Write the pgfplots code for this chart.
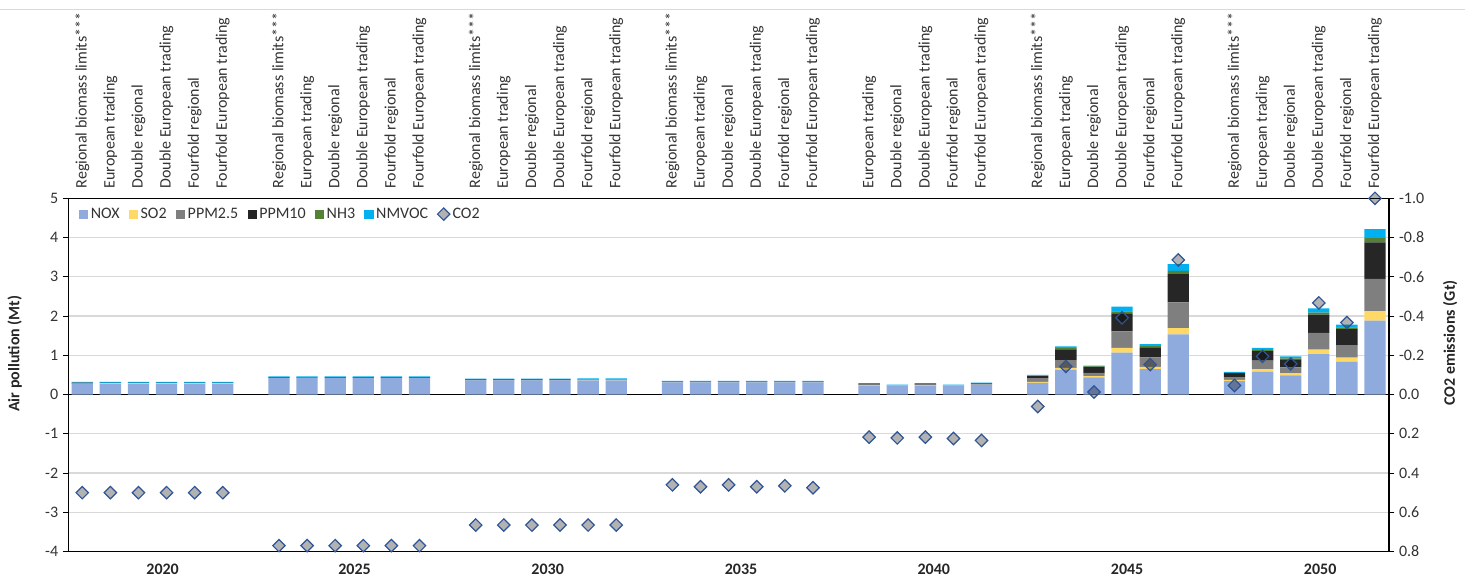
\documentclass[border=0pt]{standalone}
\usepackage{fontspec}
\setmainfont{Carlito}
\usepackage{pgfplots}
\usepackage{pgfplotstable}
\pgfplotsset{compat=1.18}

\definecolor{cNOX}{HTML}{8FAADC}
\definecolor{cSO}{HTML}{FFD966}
\definecolor{cPMa}{HTML}{7F7F7F}
\definecolor{cPMb}{HTML}{262626}
\definecolor{cNH}{HTML}{548235}
\definecolor{cVOC}{HTML}{00B0F0}
\definecolor{cCO}{HTML}{2F5597}

\newcommand\fs{\fontsize{12}{14.4}\selectfont}
\newcommand\RB{Regional biomass limits***}
\newcommand\ET{European trading}
\newcommand\DR{Double regional}
\newcommand\DE{Double European trading}
\newcommand\FR{Fourfold regional}
\newcommand\FE{Fourfold European trading}

\pgfplotsset{
  mybar/.style={fill=#1, draw=none,
    legend image code/.code={\fill[##1] (0pt,-3.4pt) rectangle (6.8pt,3.4pt);}},
  co2mark/.style={only marks, mark=square*, mark size=3.3pt,
    mark options={rotate=45, draw=cCO, line width=0.9pt, fill=black, fill opacity=0.3}},
  co2leg/.style={legend image code/.code={\draw[##1] plot coordinates {(3.5pt,0pt)};}},
}

% x = slot, empty slot between years; co2 in Gt (right axis)
\pgfplotstableread{
x  nox   so2   pm25  pm10  nh3   nmvoc co2
0  0.27  0.005 0.01  0.02  0     0.015 0.50
1  0.27  0.015 0.01  0.005 0     0.02  0.50
2  0.27  0.015 0.01  0.005 0     0.02  0.50
3  0.27  0.015 0.01  0.005 0     0.02  0.50
4  0.27  0.015 0.01  0.005 0     0.02  0.50
5  0.27  0.015 0.01  0.005 0     0.02  0.50
7  0.42  0     0.005 0.015 0     0.02  0.77
8  0.42  0     0.005 0.005 0     0.03  0.77
9  0.42  0     0.005 0.015 0     0.02  0.77
10 0.42  0     0.005 0.015 0     0.02  0.77
11 0.42  0     0.005 0.015 0     0.02  0.77
12 0.42  0     0.005 0.015 0     0.02  0.77
14 0.36  0     0.01  0.015 0     0.02  0.665
15 0.36  0     0.01  0.015 0     0.02  0.665
16 0.36  0     0.01  0.015 0     0.02  0.665
17 0.36  0     0.01  0.015 0     0.02  0.665
18 0.36  0.015 0.01  0.005 0     0.02  0.665
19 0.36  0.015 0.01  0.005 0     0.02  0.665
21 0.31  0     0.01  0.01  0     0.02  0.46
22 0.31  0     0.01  0.01  0     0.02  0.47
23 0.31  0     0.01  0.01  0     0.02  0.46
24 0.31  0     0.01  0.01  0     0.02  0.47
25 0.31  0     0.01  0.01  0     0.02  0.465
26 0.31  0     0.01  0.01  0     0.02  0.475
28 0.23  0.005 0.02  0.02  0     0.015 0.217
29 0.235 0     0     0     0     0.02  0.221
30 0.23  0.005 0.02  0.02  0     0.015 0.217
31 0.235 0     0     0     0     0.02  0.224
32 0.25  0.005 0.01  0.02  0     0.02  0.234
34 0.30  0.02  0.10  0.05  0.01  0.02  0.061
35 0.63  0.05  0.20  0.27  0.03  0.05  -0.143
36 0.44  0.03  0.085 0.153 0.01  0.02  -0.013
37 1.07  0.12  0.42  0.46  0.05  0.12  -0.391
38 0.645 0.06  0.24  0.255 0.034 0.05  -0.153
39 1.535 0.16  0.654 0.72  0.085 0.17  -0.686
41 0.34  0.035 0.07  0.10  0.01  0.02  -0.046
42 0.585 0.06  0.22  0.24  0.035 0.05  -0.195
43 0.49  0.05  0.153 0.204 0.025 0.05  -0.156
44 1.027 0.12  0.425 0.467 0.05  0.11  -0.467
45 0.84  0.10  0.32  0.41  0.04  0.07  -0.367
46 1.885 0.24  0.82  0.93  0.11  0.23  -1.0
}\data

\begin{document}
\begin{tikzpicture}
\path (-50.8pt,-22.7pt) rectangle (1057pt,413.8pt);
\draw[gray!30, line width=0.75pt] (-50.8pt,407pt) -- (1048pt,407pt);

\begin{axis}[
  at={(0,0)}, anchor=south west,
  scale only axis, width=991pt, height=265pt,
  xmin=-0.5, xmax=46.5, ymin=-4, ymax=5,
  ybar stacked, bar width=16pt,
  xtick={0,1,2,3,4,5,7,8,9,10,11,12,14,15,16,17,18,19,21,22,23,24,25,26,28,29,30,31,32,34,35,36,37,38,39,41,42,43,44,45,46},
  xticklabels={\RB,\ET,\DR,\DE,\FR,\FE,\RB,\ET,\DR,\DE,\FR,\FE,\RB,\ET,\DR,\DE,\FR,\FE,\RB,\ET,\DR,\DE,\FR,\FE,\ET,\DR,\DE,\FR,\FE,\RB,\ET,\DR,\DE,\FR,\FE,\RB,\ET,\DR,\DE,\FR,\FE},
  xticklabel pos=top,
  x tick label style={rotate=90, anchor=west, font=\fs, text=black!80},
  xtick style={draw=none},
  ytick={-4,-3,-2,-1,0,1,2,3,4,5}, ytick pos=left,
  y tick label style={font=\fs, text=black!80},
  tick align=outside, major tick length=4pt,
  ytick style={black, line width=0.8pt},
  ymajorgrids, major grid style={draw=gray!30, line width=0.9pt},
  axis line style={black, line width=0.9pt},
  ylabel={\bfseries Air pollution (Mt)},
  ylabel style={font=\fs, text=black!85, at={(axis description cs:-0.0406,0.56)}, anchor=center},
  legend style={draw=none, fill=none, at={(axis description cs:0,1)}, anchor=north west,
    xshift=5pt, yshift=-3pt, font=\fs, text=black!80,
    /tikz/every even column/.append style={column sep=5pt}},
  legend columns=-1,
  /pgf/number format/assume math mode=true,
]
\addplot[mybar=cNOX] table[x=x,y=nox]{\data};
\addlegendentry{NOX}
\addplot[mybar=cSO] table[x=x,y=so2]{\data};
\addlegendentry{SO2}
\addplot[mybar=cPMa] table[x=x,y=pm25]{\data};
\addlegendentry{PPM2.5}
\addplot[mybar=cPMb] table[x=x,y=pm10]{\data};
\addlegendentry{PPM10}
\addplot[mybar=cNH] table[x=x,y=nh3]{\data};
\addlegendentry{NH3}
\addplot[mybar=cVOC] table[x=x,y=nmvoc]{\data};
\addlegendentry{NMVOC}
\addlegendimage{co2mark, co2leg}
\addlegendentry{CO2}
\draw[black, line width=0.9pt] (axis cs:-0.5,0) -- (axis cs:46.5,0);
\end{axis}

\begin{axis}[
  at={(0,0)}, anchor=south west,
  scale only axis, width=991pt, height=265pt,
  xmin=-0.5, xmax=46.5, ymin=-1, ymax=0.8, y dir=reverse,
  axis x line=none, axis y line*=right,
  ytick={-1,-0.8,-0.6,-0.4,-0.2,0,0.2,0.4,0.6,0.8},
  y tick label style={font=\fs, text=black!80},
  yticklabel style={/pgf/number format/.cd, fixed, fixed zerofill, precision=1},
  tick align=outside, major tick length=4pt,
  ytick style={black, line width=0.8pt},
  axis line style={black, line width=0.9pt},
  ylabel={\bfseries CO2 emissions (Gt)},
  ylabel style={font=\fs, text=black!85, at={(axis description cs:1.0463,0.59)}, anchor=center},
  clip=false,
  /pgf/number format/assume math mode=true,
]
\addplot[co2mark] table[x=x,y=co2]{\data};
\node[font=\fs\bfseries, text=black!85, yshift=-13pt] at (axis cs:2.86,0.8) {2020};
\node[font=\fs\bfseries, text=black!85, yshift=-13pt] at (axis cs:9.69,0.8) {2025};
\node[font=\fs\bfseries, text=black!85, yshift=-13pt] at (axis cs:16.56,0.8) {2030};
\node[font=\fs\bfseries, text=black!85, yshift=-13pt] at (axis cs:23.44,0.8) {2035};
\node[font=\fs\bfseries, text=black!85, yshift=-13pt] at (axis cs:30.3,0.8) {2040};
\node[font=\fs\bfseries, text=black!85, yshift=-13pt] at (axis cs:37.18,0.8) {2045};
\node[font=\fs\bfseries, text=black!85, yshift=-13pt] at (axis cs:44.05,0.8) {2050};
\end{axis}
\end{tikzpicture}
\end{document}
